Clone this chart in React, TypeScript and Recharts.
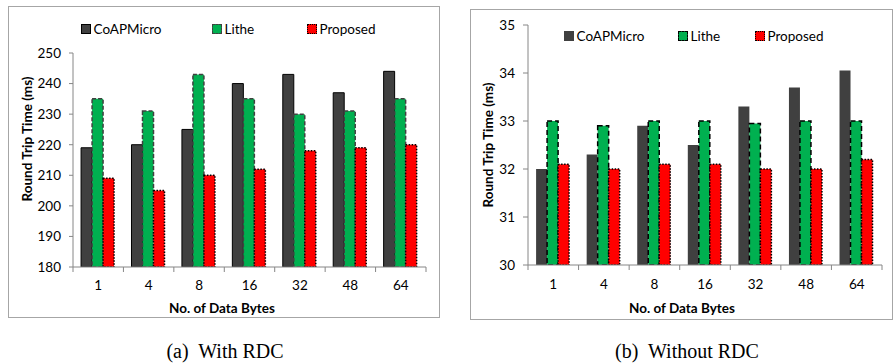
import React from 'react';
import { BarChart, Bar, XAxis, YAxis, Legend } from 'recharts';

const categories = ['1', '4', '8', '16', '32', '48', '64'];

const rdcCoapMicro = [219, 220, 225, 240, 243, 237, 244];
const rdcLithe = [235, 231, 243, 235, 230, 231, 235];
const rdcProposed = [209, 205, 210, 212, 218, 219, 220];
const rdcTicks = [180, 190, 200, 210, 220, 230, 240, 250];

const noRdcCoapMicro = [32.0, 32.3, 32.9, 32.5, 33.3, 33.7, 34.05];
const noRdcLithe = [33.0, 32.9, 33.0, 33.0, 32.95, 33.0, 33.0];
const noRdcProposed = [32.1, 32.0, 32.1, 32.1, 32.0, 32.0, 32.2];
const noRdcTicks = [30, 31, 32, 33, 34, 35];

const seriesNames = ['CoAPMicro', 'Lithe', 'Proposed'];

const dataA = categories.map((c, i) => ({
  cat: c,
  CoAPMicro: rdcCoapMicro[i],
  Lithe: rdcLithe[i],
  Proposed: rdcProposed[i],
}));
const dataB = categories.map((c, i) => ({
  cat: c,
  CoAPMicro: noRdcCoapMicro[i],
  Lithe: noRdcLithe[i],
  Proposed: noRdcProposed[i],
}));

const FONT = 'Lato, "Open Sans", sans-serif';
const AXIS = '#868686';
const GRAY = '#404040';
const GREEN = '#00B050';
const RED = '#FF0000';

const XTick = (props: any) => {
  const { x, y, payload, index, bw, n, dy, fs } = props;
  return (
    <g>
      <line x1={x - bw / 2} y1={y} x2={x - bw / 2} y2={y + 5} stroke={AXIS} />
      {index === n - 1 && (
        <line x1={x + bw / 2} y1={y} x2={x + bw / 2} y2={y + 5} stroke={AXIS} />
      )}
      <text x={x} y={y + dy} textAnchor="middle" fontFamily={FONT} fontSize={fs} fill="#000">
        {payload.value}
      </text>
    </g>
  );
};

const makeLegend = (positions: number[], styles: any[]) => (props: any) => {
  const { payload } = props;
  return (
    <div style={{ position: 'relative', height: 16, fontFamily: FONT, fontSize: 13.5, color: '#000' }}>
      {(payload || []).map((p: any) => {
        const idx = seriesNames.indexOf(p.value);
        return (
          <div key={p.value} style={{ position: 'absolute', left: positions[idx], top: 0, display: 'flex', alignItems: 'center', height: 16, whiteSpace: 'nowrap' }}>
            <span style={{ display: 'inline-block', width: 9.5, height: 9.5, boxSizing: 'border-box', ...styles[idx] }} />
            <span style={{ marginLeft: 3 }}>{p.value}</span>
          </div>
        );
      })}
    </div>
  );
};

const legendStylesA = [
  { background: GRAY, border: '1px solid #000' },
  { background: GREEN, border: '1.5px dashed #404040' },
  { background: RED, border: '1.5px dotted #000' },
];
const legendStylesB = [
  { background: GRAY },
  { background: GREEN, border: '1.5px dashed #000' },
  { background: RED, border: '1.5px dotted #000' },
];

const yTitle = (text: string, cx: number, cy: number) => (
  <div
    style={{
      position: 'absolute',
      left: cx - 100,
      top: cy - 9,
      width: 200,
      height: 18,
      lineHeight: '18px',
      textAlign: 'center',
      transform: 'rotate(-90deg)',
      fontFamily: FONT,
      fontWeight: 700,
      fontSize: 13.5,
      color: '#000',
      whiteSpace: 'nowrap',
    }}
  >
    {text}
  </div>
);

const xTitle = (text: string, cx: number, cy: number) => (
  <div
    style={{
      position: 'absolute',
      left: cx - 100,
      top: cy - 9,
      width: 200,
      height: 18,
      lineHeight: '18px',
      textAlign: 'center',
      fontFamily: FONT,
      fontWeight: 700,
      fontSize: 13.5,
      color: '#000',
      whiteSpace: 'nowrap',
    }}
  >
    {text}
  </div>
);

const caption = (text: string, cx: number, cy: number) => (
  <div
    style={{
      position: 'absolute',
      left: cx - 150,
      top: cy - 12,
      width: 300,
      height: 24,
      lineHeight: '24px',
      textAlign: 'center',
      fontFamily: '"Liberation Serif", "Times New Roman", serif',
      fontSize: 20,
      color: '#000',
      whiteSpace: 'pre',
    }}
  >
    {text}
  </div>
);

export default function App() {
  // Chart A geometry
  const aW = 432, aH = 312, aYW = 65, aRight = 14, aTop = 47, aXH = 51;
  const aBw = (aW - aYW - aRight) / categories.length;
  // Chart B geometry
  const bW = 423, bH = 311, bYW = 58, bRight = 11, bTop = 16, bXH = 55;
  const bBw = (bW - bYW - bRight) / categories.length;

  return (
    <div style={{ position: 'absolute', left: 0, top: 0, width: 896, height: 364, background: '#fff', overflow: 'hidden' }}>
      {/* Chart A */}
      <div style={{ position: 'absolute', left: 8, top: 6, width: aW, height: aH, border: '1px solid #a6a6a6', boxSizing: 'border-box' }} />
      <div style={{ position: 'absolute', left: 8, top: 6, width: aW, height: aH }}>
        <BarChart width={aW} height={aH} data={dataA} margin={{ top: aTop, right: aRight, bottom: 0, left: 0 }} barCategoryGap="16%" barGap={0}>
          <XAxis
            dataKey="cat"
            height={aXH}
            stroke={AXIS}
            tickLine={false}
            tickSize={0}
            tickMargin={0}
            interval={0}
            tick={<XTick bw={aBw} n={categories.length} dy={23} fs={13.5} />}
          />
          <YAxis
            width={aYW}
            domain={[180, 250]}
            ticks={rdcTicks}
            allowDataOverflow
            stroke={AXIS}
            tickSize={4}
            tickMargin={8}
            tick={{ fill: '#000', fontFamily: FONT, fontSize: 13.5 }}
          />
          <Legend
            layout="horizontal"
            verticalAlign="middle"
            align="center"
            wrapperStyle={{ top: 15, left: 0, width: aW }}
            content={makeLegend([73, 204, 299], legendStylesA)}
          />
          <Bar dataKey="CoAPMicro" fill={GRAY} stroke="#000" strokeWidth={1} isAnimationActive={false} />
          <Bar dataKey="Lithe" fill={GREEN} stroke="#404040" strokeWidth={1.5} strokeDasharray="4 2" isAnimationActive={false} />
          <Bar dataKey="Proposed" fill={RED} stroke="#000" strokeWidth={1.5} strokeDasharray="1.5 1.5" isAnimationActive={false} />
        </BarChart>
      </div>
      {yTitle('Round Trip Time (ms)', 27, 139)}
      {xTitle('No. of Data Bytes', 222, 308)}
      {caption('(a)  With RDC', 225, 351)}

      {/* Chart B */}
      <div style={{ position: 'absolute', left: 470, top: 9, width: bW, height: bH, border: '1px solid #a6a6a6', boxSizing: 'border-box' }} />
      <div style={{ position: 'absolute', left: 470, top: 9, width: bW, height: bH }}>
        <BarChart width={bW} height={bH} data={dataB} margin={{ top: bTop, right: bRight, bottom: 0, left: 0 }} barCategoryGap="16%" barGap={0}>
          <XAxis
            dataKey="cat"
            height={bXH}
            stroke={AXIS}
            tickLine={false}
            tickSize={0}
            tickMargin={0}
            interval={0}
            tick={<XTick bw={bBw} n={categories.length} dy={24} fs={13.5} />}
          />
          <YAxis
            width={bYW}
            domain={[30, 35]}
            ticks={noRdcTicks}
            allowDataOverflow
            stroke={AXIS}
            tickSize={5}
            tickMargin={8}
            tick={{ fill: '#000', fontFamily: FONT, fontSize: 13.5 }}
          />
          <Legend
            layout="horizontal"
            verticalAlign="middle"
            align="center"
            wrapperStyle={{ top: 19, left: 0, width: bW }}
            content={makeLegend([94, 208, 285], legendStylesB)}
          />
          <Bar dataKey="CoAPMicro" fill={GRAY} isAnimationActive={false} />
          <Bar dataKey="Lithe" fill={GREEN} stroke="#000" strokeWidth={1.5} strokeDasharray="5 3" isAnimationActive={false} />
          <Bar dataKey="Proposed" fill={RED} stroke="#000" strokeWidth={1.5} strokeDasharray="1.5 1.5" isAnimationActive={false} />
        </BarChart>
      </div>
      {yTitle('Round Trip Time (ms)', 488, 145)}
      {xTitle('No. of Data Bytes', 682, 308)}
      {caption('(b)  Without RDC', 687, 351)}
    </div>
  );
}
